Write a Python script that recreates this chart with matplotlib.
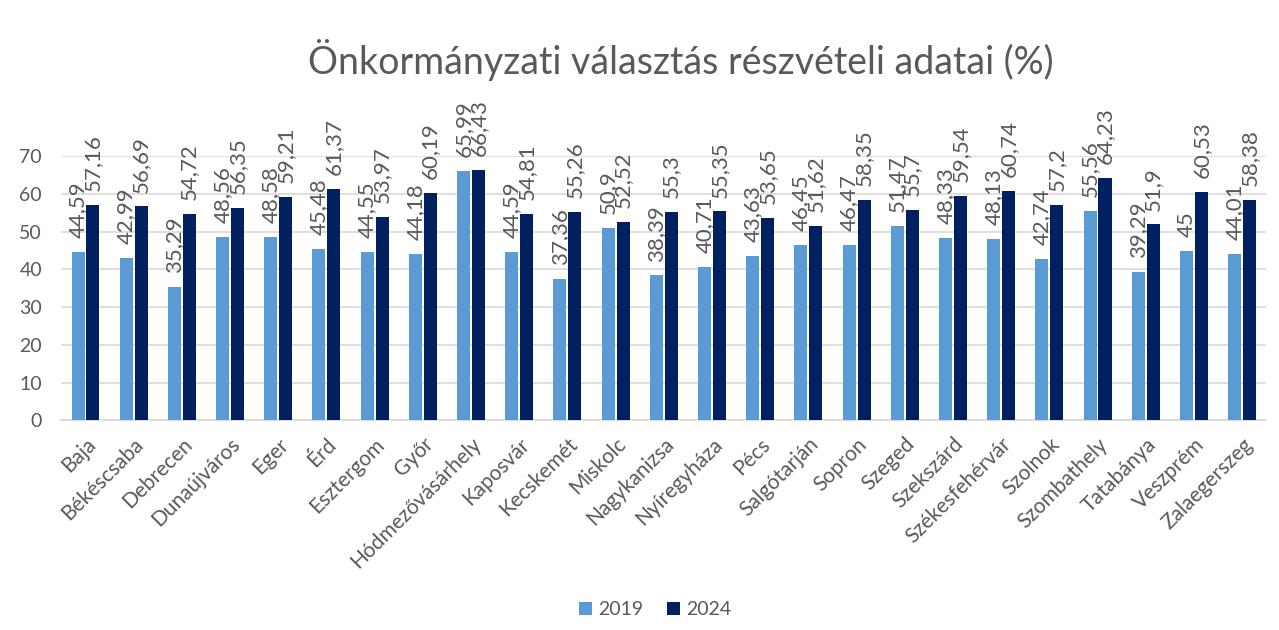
import matplotlib.pyplot as plt
import numpy as np

plt.rcParams['font.family'] = ['Lato', 'DejaVu Sans']

cities = ['Baja', 'Békéscsaba', 'Debrecen', 'Dunaújváros', 'Eger', 'Érd', 'Esztergom',
          'Győr', 'Hódmezővásárhely', 'Kaposvár', 'Kecskemét', 'Miskolc', 'Nagykanizsa',
          'Nyíregyháza', 'Pécs', 'Salgótarján', 'Sopron', 'Szeged', 'Szekszárd',
          'Székesfehérvár', 'Szolnok', 'Szombathely', 'Tatabánya', 'Veszprém', 'Zalaegerszeg']
turnout_2019 = [44.59, 42.99, 35.29, 48.56, 48.58, 45.48, 44.55, 44.18, 65.99, 44.59,
                37.36, 50.9, 38.39, 40.71, 43.63, 46.45, 46.47, 51.47, 48.33, 48.13,
                42.74, 55.56, 39.29, 45, 44.01]
turnout_2024 = [57.16, 56.69, 54.72, 56.35, 59.21, 61.37, 53.97, 60.19, 66.43, 54.81,
                55.26, 52.52, 55.3, 55.35, 53.65, 51.62, 58.35, 55.7, 59.54, 60.74,
                57.2, 64.23, 51.9, 60.53, 58.38]
years = ['2019', '2024']
colors = ['#5b9bd5', '#002060']
text_gray = '#595959'

fig = plt.figure(figsize=(12.79, 6.3), dpi=100)
ax = fig.add_axes([0.048, 0.333, 0.942, 0.419])

x = np.arange(len(cities))
w = 0.27
off = 0.155
for vals, dx, col, lab in [(turnout_2019, -off, colors[0], years[0]),
                           (turnout_2024, off, colors[1], years[1])]:
    bars = ax.bar(x + dx, vals, width=w, color=col, label=lab, zorder=3)
    for b, v in zip(bars, vals):
        ax.annotate(f'{v:g}'.replace('.', ','), (b.get_x() + b.get_width() / 2, v),
                    xytext=(0, 10), textcoords='offset points',
                    rotation=90, ha='center', va='bottom', fontsize=16,
                    color=text_gray, annotation_clip=False)

ax.set_xlim(-0.5, len(cities) - 0.5)
ax.set_ylim(0, 70)
ax.set_yticks(range(0, 71, 10))
ax.yaxis.grid(True, color='#d9d9d9', linewidth=1.2, zorder=0)
for s in ['top', 'right', 'left']:
    ax.spines[s].set_visible(False)
ax.spines['bottom'].set_color('#d9d9d9')
ax.spines['bottom'].set_linewidth(1.2)
ax.tick_params(axis='both', length=0, colors=text_gray, labelsize=14)
ax.tick_params(axis='y', pad=14)
ax.tick_params(axis='x', pad=10)
ax.set_xticks(x)
ax.set_xticklabels(cities, rotation=45, ha='right', rotation_mode='anchor', fontsize=15)

fig.text(0.532, 0.905, 'Önkormányzati választás részvételi adatai (%)', ha='center',
         va='center', fontsize=27, color=text_gray)

fig.legend(loc='center', bbox_to_anchor=(0.512, 0.032), ncol=2, frameon=False,
           fontsize=14, handlelength=0.7, handleheight=0.7, handletextpad=0.3,
           columnspacing=1.2, labelcolor=text_gray)

fig.savefig('out.png', dpi=100)
